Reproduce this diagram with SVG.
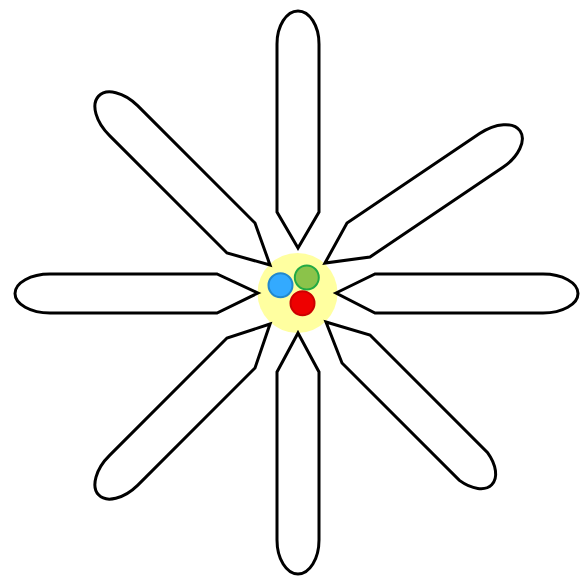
<svg xmlns="http://www.w3.org/2000/svg" width="587" height="576" viewBox="0 0 587 576">
  <style>
    .petal { fill: #ffffff; stroke: #000000; stroke-width: 3; stroke-linejoin: miter; }
    .dot { stroke-width: 2; }
  </style>
  <rect x="0" y="0" width="587" height="576" fill="#ffffff"/>
  <g id="center">
    <circle cx="297.5" cy="293" r="40" fill="#ffffa0"/>
  </g>
  <g id="petal-top"><path class="petal" d="M298,248 L277,212 L277,44 A21,33 0 0 1 319,44 L319,212 Z"/></g>
  <g id="petal-bottom"><path class="petal" d="M298,333 L319,372 L319,540 A21,34 0 0 1 277,540 L277,372 Z"/></g>
  <g id="petal-left"><path class="petal" d="M258,293 L217,274 L50,274 A35,19.5 0 0 0 50,313 L217,313 Z"/></g>
  <g id="petal-right"><path class="petal" d="M336,293 L375,274 L543,274 A35,19.5 0 0 1 543,313 L375,313 Z"/></g>
  <g id="petal-upper-left"><path class="petal" d="M270,265 L255,223 L137.6,105.6 A35,20.5 45 0 0 109.6,135.6 L227,253 Z"/></g>
  <g id="petal-lower-left"><path class="petal" d="M270,324 L227,338 L109.6,455.4 A35,20.5 -45 0 0 137.6,485.4 L255,368 Z"/></g>
  <g id="petal-lower-right"><path class="petal" d="M326,322 L370,335 L487.4,452.4 A35,20.5 45 0 1 459.4,480.4 L342,363 Z"/></g>
  <g id="petal-upper-right"><path class="petal" d="M325,263 L347,223 L479.6,133.6 A35,20.5 -34 0 1 502.6,167.6 L370,257 Z"/></g>
  <g id="dots">
    <circle id="dot-blue" class="dot" cx="280.5" cy="285.3" r="12" fill="#33aaff" stroke="#2288cc"/>
    <circle id="dot-green" class="dot" cx="306.8" cy="277.5" r="12" fill="#8bc34a" stroke="#22aa44"/>
    <circle id="dot-red" class="dot" cx="302.5" cy="303.3" r="12" fill="#ee0000" stroke="#cc0000"/>
  </g>
</svg>
